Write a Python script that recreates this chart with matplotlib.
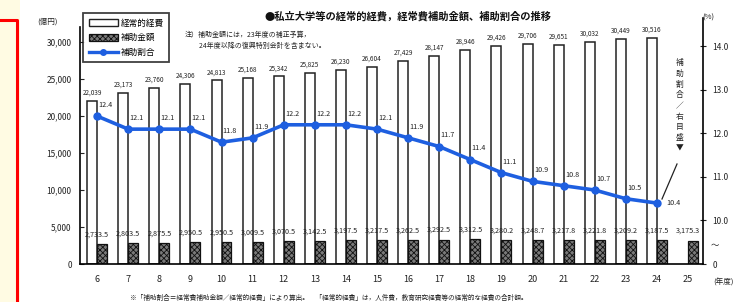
import numpy as np
import matplotlib
matplotlib.use("Agg")
import matplotlib.pyplot as plt
from matplotlib.patches import Patch, Rectangle
from matplotlib.lines import Line2D

plt.rcParams['font.family'] = ['Noto Sans CJK JP', 'DejaVu Sans']
plt.rcParams['hatch.linewidth'] = 0.6

# ---------------- data ----------------
years = ['6', '7', '8', '9', '10', '11', '12', '13', '14', '15', '16', '17',
         '18', '19', '20', '21', '22', '23', '24', '25']
expenses = [22039, 23173, 23760, 24306, 24813, 25168, 25342, 25825, 26230,
            26604, 27429, 28147, 28946, 29426, 29706, 29651, 30032, 30449,
            30516, np.nan]
subsidy = [2733.5, 2803.5, 2875.5, 2950.5, 2950.5, 3009.5, 3070.5, 3142.5,
           3197.5, 3217.5, 3262.5, 3292.5, 3312.5, 3280.2, 3248.7, 3217.8,
           3221.8, 3209.2, 3187.5, 3175.3]
ratio = [12.4, 12.1, 12.1, 12.1, 11.8, 11.9, 12.2, 12.2, 12.2, 12.1, 11.9,
         11.7, 11.4, 11.1, 10.9, 10.8, 10.7, 10.5, 10.4]
left_ticks = [0, 5000, 10000, 15000, 20000, 25000, 30000]
right_ticks = [10.0, 11.0, 12.0, 13.0, 14.0]

title = '●私立大学等の経常的経費，経常費補助金額、補助割合の推移'
note = '注）補助金額には，23年度の補正予算，\n　　24年度以降の復興特別会計を含まない。'
foot = ('※「補助割合＝経常費補助金額／経常的経費」により算出。　'
        '「経常的経費」は，人件費，教育研究経費等の経常的な経費の合計額。')

W, H = 742, 302
fig = plt.figure(figsize=(W / 100, H / 100), dpi=100)
fig.patch.set_facecolor('white')

# left decoration (yellow strip + red frame)
fig.patches.append(Rectangle((0, 0), 20 / W, 1, transform=fig.transFigure,
                             facecolor='#fffbe3', edgecolor='none', zorder=0))
fig.add_artist(Line2D([0, 17 / W, 17 / W], [1 - 20 / H, 1 - 20 / H, 0],
                      transform=fig.transFigure, color='#ff0000', lw=2.2))

ax = fig.add_axes([80 / W, 1 - 264 / H, (703 - 80) / W, (264 - 18) / H])
ax.set_facecolor('none')
x = np.arange(len(years))
w = 0.32
tc = '#222222'
hatch_fc = '#7a7a7a'
blue = '#1e5fe0'

ax.bar(x - w / 2, expenses, width=w, facecolor='white', edgecolor='#222',
       linewidth=1.1, zorder=2)
ax.bar(x + w / 2, subsidy, width=w, facecolor=hatch_fc, edgecolor='#111',
       hatch='xxxxxx', linewidth=0.9, zorder=2)

for xi, v in zip(x, expenses):
    if not np.isnan(v):
        ax.annotate(f'{int(v):,}', (xi - w / 2, v), xytext=(0, 3),
                    textcoords='offset points', ha='center', va='bottom',
                    fontsize=4.6, color=tc)
for xi, v in zip(x, subsidy):
    ax.annotate(f'{v:,.1f}', (xi, v), xytext=(0, 4),
                textcoords='offset points', ha='center', va='bottom',
                fontsize=5.2, color=tc, zorder=3)

ax.set_xlim(-0.55, len(years) - 0.52)
ax.set_ylim(0, 33243)
ax.set_yticks(left_ticks)
ax.set_yticklabels([f'{t:,}' for t in left_ticks])
ax.set_xticks(x)
ax.set_xticklabels(years)
ax.tick_params(axis='x', length=0, pad=8, labelsize=6.5, colors=tc)
ax.tick_params(axis='y', direction='in', length=3, pad=6, labelsize=6,
               colors=tc)
for s in ['top', 'right']:
    ax.spines[s].set_visible(False)
ax.spines['left'].set_bounds(0, 32000)
ax.spines['left'].set_linewidth(1.2)
ax.spines['bottom'].set_linewidth(1.2)

# right axis
ax2 = ax.twinx()
ax2.set_ylim(9.0, 14.655)
ax2.set_yticks([9.0] + right_ticks)
ax2.set_yticklabels(['0'] + [f'{t:.1f}' for t in right_ticks])
ax2.tick_params(axis='y', direction='inout', length=4, pad=5, labelsize=6,
                colors=tc)
for s in ['top', 'left', 'bottom']:
    ax2.spines[s].set_visible(False)
ax2.spines['right'].set_linewidth(1.2)
ax2.text(1.012, 9.42, '〜', transform=ax2.get_yaxis_transform(), fontsize=6,
         ha='left', va='center', color=tc)

xr = x[:len(ratio)]
ax2.plot(xr, ratio, color=blue, lw=2.6, marker='o', markersize=5,
         zorder=5)
for i, (xi, v) in enumerate(zip(xr, ratio)):
    if i == len(ratio) - 1:
        ax2.annotate(f'{v:.1f}', (xi, v), xytext=(7, 0),
                     textcoords='offset points', ha='left', va='center',
                     fontsize=5.2, color=tc)
    else:
        ax2.annotate(f'{v:.1f}', (xi, v), xytext=(6, 8),
                     textcoords='offset points', ha='center', va='center',
                     fontsize=5.2, color=tc)

# vertical caption for the line
fig.text(680 / W, 1 - 106 / H, '\n'.join('補助割合／右目盛▼'), fontsize=5.6,
         ha='center', va='center', linespacing=1.45, color=tc)
fig.add_artist(Line2D([677 / W, 662 / W], [1 - 164 / H, 1 - 199 / H],
                      transform=fig.transFigure, color='#222', lw=0.9))

# texts
fig.text(48 / W, 1 - 22 / H, '(億円)', fontsize=5.5, ha='center',
         va='center', color=tc)
fig.text(708 / W, 1 - 18 / H, '(%)', fontsize=5.5, ha='center',
         va='center', color=tc)
fig.text(724 / W, 1 - 283 / H, '(年度)', fontsize=5.5, ha='center',
         va='center', color=tc)
fig.text(408 / W, 1 - 16 / H, title, fontsize=7.4, ha='center', va='center',
         color='#111', fontweight='bold')
fig.text(185 / W, 1 - 40 / H, note, fontsize=5.0, ha='left', va='center',
         linespacing=1.5, color=tc)
fig.text(130 / W, 1 - 298 / H, foot, fontsize=4.8, ha='left', va='center',
         color=tc)

handles = [Patch(facecolor='white', edgecolor='#222', linewidth=1.0),
           Patch(facecolor=hatch_fc, edgecolor='#111', hatch='xxxxxx',
                 linewidth=0.9),
           Line2D([], [], color=blue, lw=2.4, marker='o', markersize=4)]
leg = fig.legend(handles, ['経常的経費', '補助金額', '補助割合'],
                 loc='upper left', bbox_to_anchor=(83 / W, 1 - 13 / H),
                 fontsize=6.2, frameon=True, fancybox=False, edgecolor='#111',
                 handlelength=3.4, handleheight=0.9, borderpad=0.65,
                 labelspacing=0.65, handletextpad=0.3, borderaxespad=0)
leg.get_frame().set_linewidth(1.3)

fig.savefig('out.png', dpi=100)
